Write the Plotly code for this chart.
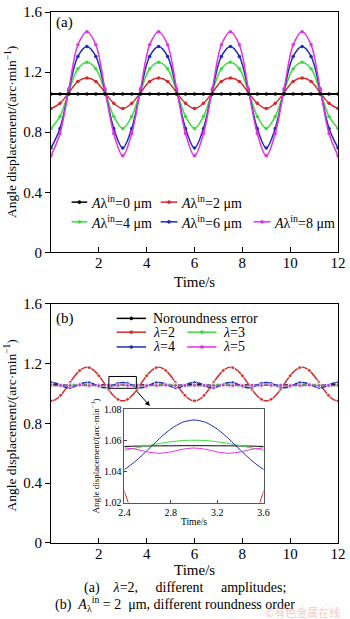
import plotly.graph_objects as go

# ---------------- data: panel (a) ----------------
t_a = [0, 0.375, 0.75, 1.125, 1.5, 1.875, 2.25, 2.625, 3.0, 3.375, 3.75, 4.125, 4.5, 4.875, 5.25, 5.625,
       6.0, 6.375, 6.75, 7.125, 7.5, 7.875, 8.25, 8.625, 9.0, 9.375, 9.75, 10.125, 10.5, 10.875, 11.25, 11.625, 12.0]
a_0um = [1.055, 1.055, 1.055, 1.055, 1.055, 1.055, 1.055, 1.055,
         1.055, 1.055, 1.055, 1.055, 1.055, 1.055, 1.055, 1.055,
         1.055, 1.055, 1.055, 1.055, 1.055, 1.055, 1.055, 1.055,
         1.055, 1.055, 1.055, 1.055, 1.055, 1.055, 1.055, 1.055, 1.055]
a_2um = [0.957, 0.992, 1.064, 1.138, 1.160, 1.138, 1.064, 0.992,
         0.957, 0.992, 1.064, 1.138, 1.160, 1.138, 1.064, 0.992,
         0.957, 0.992, 1.064, 1.138, 1.160, 1.138, 1.064, 0.992,
         0.957, 0.992, 1.064, 1.138, 1.160, 1.138, 1.064, 0.992, 0.957]
a_4um = [0.825, 0.905, 1.073, 1.222, 1.266, 1.222, 1.073, 0.905,
         0.825, 0.905, 1.073, 1.222, 1.266, 1.222, 1.073, 0.905,
         0.825, 0.905, 1.073, 1.222, 1.266, 1.222, 1.073, 0.905,
         0.825, 0.905, 1.073, 1.222, 1.266, 1.222, 1.073, 0.905, 0.825]
a_6um = [0.695, 0.825, 1.082, 1.304, 1.370, 1.304, 1.082, 0.825,
         0.695, 0.825, 1.082, 1.304, 1.370, 1.304, 1.082, 0.825,
         0.695, 0.825, 1.082, 1.304, 1.370, 1.304, 1.082, 0.825,
         0.695, 0.825, 1.082, 1.304, 1.370, 1.304, 1.082, 0.825, 0.695]
a_8um = [0.643, 0.791, 1.090, 1.382, 1.469, 1.382, 1.090, 0.791,
         0.643, 0.791, 1.090, 1.382, 1.469, 1.382, 1.090, 0.791,
         0.643, 0.791, 1.090, 1.382, 1.469, 1.382, 1.090, 0.791,
         0.643, 0.791, 1.090, 1.382, 1.469, 1.382, 1.090, 0.791, 0.643]
names_a = ["<i>A</i>λ<sup>in</sup>=0 μm", "<i>A</i>λ<sup>in</sup>=2 μm", "<i>A</i>λ<sup>in</sup>=4 μm",
           "<i>A</i>λ<sup>in</sup>=6 μm", "<i>A</i>λ<sup>in</sup>=8 μm"]

# ---------------- data: panel (b) ----------------
t_b = [0.0, 0.1, 0.2, 0.3, 0.4, 0.5, 0.6, 0.7, 0.8, 0.9, 1.0, 1.1, 1.2, 1.3, 1.4, 1.5, 1.6, 1.7, 1.8, 1.9,
       2.0, 2.1, 2.2, 2.3, 2.4, 2.5, 2.6, 2.7, 2.8, 2.9, 3.0, 3.1, 3.2, 3.3, 3.4, 3.5, 3.6, 3.7, 3.8, 3.9,
       4.0, 4.1, 4.2, 4.3, 4.4, 4.5, 4.6, 4.7, 4.8, 4.9, 5.0, 5.1, 5.2, 5.3, 5.4, 5.5, 5.6, 5.7, 5.8, 5.9,
       6.0, 6.1, 6.2, 6.3, 6.4, 6.5, 6.6, 6.7, 6.8, 6.9, 7.0, 7.1, 7.2, 7.3, 7.4, 7.5, 7.6, 7.7, 7.8, 7.9,
       8.0, 8.1, 8.2, 8.3, 8.4, 8.5, 8.6, 8.7, 8.8, 8.9, 9.0, 9.1, 9.2, 9.3, 9.4, 9.5, 9.6, 9.7, 9.8, 9.9,
       10.0, 10.1, 10.2, 10.3, 10.4, 10.5, 10.6, 10.7, 10.8, 10.9, 11.0, 11.1, 11.2, 11.3, 11.4, 11.5,
       11.6, 11.7, 11.8, 11.9, 12.0]
b_nor = [1.0565, 1.0565, 1.0564, 1.0564, 1.0563, 1.0562, 1.0560, 1.0559, 1.0557, 1.0556,
         1.0555, 1.0553, 1.0552, 1.0552, 1.0551, 1.0551, 1.0551, 1.0552, 1.0552, 1.0553,
         1.0555, 1.0556, 1.0557, 1.0559, 1.0560, 1.0562, 1.0563, 1.0564, 1.0564, 1.0565,
         1.0565, 1.0565, 1.0564, 1.0564, 1.0563, 1.0562, 1.0560, 1.0559, 1.0557, 1.0556,
         1.0555, 1.0553, 1.0552, 1.0552, 1.0551, 1.0551, 1.0551, 1.0552, 1.0552, 1.0553,
         1.0555, 1.0556, 1.0557, 1.0559, 1.0560, 1.0562, 1.0563, 1.0564, 1.0564, 1.0565,
         1.0565, 1.0565, 1.0564, 1.0564, 1.0563, 1.0562, 1.0560, 1.0559, 1.0557, 1.0556,
         1.0555, 1.0553, 1.0552, 1.0552, 1.0551, 1.0551, 1.0551, 1.0552, 1.0552, 1.0553,
         1.0555, 1.0556, 1.0557, 1.0559, 1.0560, 1.0562, 1.0563, 1.0564, 1.0564, 1.0565,
         1.0565, 1.0565, 1.0564, 1.0564, 1.0563, 1.0562, 1.0560, 1.0559, 1.0557, 1.0556,
         1.0555, 1.0553, 1.0552, 1.0552, 1.0551, 1.0551, 1.0551, 1.0552, 1.0552, 1.0553,
         1.0555, 1.0556, 1.0557, 1.0559, 1.0560, 1.0562, 1.0563, 1.0564, 1.0564, 1.0565,
         1.0565]
b_l2 = [0.950, 0.952, 0.960, 0.971, 0.987, 1.006, 1.027, 1.050, 1.074, 1.097,
        1.118, 1.137, 1.153, 1.164, 1.172, 1.174, 1.172, 1.164, 1.153, 1.137,
        1.118, 1.097, 1.074, 1.050, 1.027, 1.006, 0.987, 0.971, 0.960, 0.952,
        0.950, 0.952, 0.960, 0.971, 0.987, 1.006, 1.027, 1.050, 1.074, 1.097,
        1.118, 1.137, 1.153, 1.164, 1.172, 1.174, 1.172, 1.164, 1.153, 1.137,
        1.118, 1.097, 1.074, 1.050, 1.027, 1.006, 0.987, 0.971, 0.960, 0.952,
        0.950, 0.952, 0.960, 0.971, 0.987, 1.006, 1.027, 1.050, 1.074, 1.097,
        1.118, 1.137, 1.153, 1.164, 1.172, 1.174, 1.172, 1.164, 1.153, 1.137,
        1.118, 1.097, 1.074, 1.050, 1.027, 1.006, 0.987, 0.971, 0.960, 0.952,
        0.950, 0.952, 0.960, 0.971, 0.987, 1.006, 1.027, 1.050, 1.074, 1.097,
        1.118, 1.137, 1.153, 1.164, 1.172, 1.174, 1.172, 1.164, 1.153, 1.137,
        1.118, 1.097, 1.074, 1.050, 1.027, 1.006, 0.987, 0.971, 0.960, 0.952,
        0.950]
b_l3 = [1.0500, 1.0502, 1.0510, 1.0521, 1.0535, 1.0550, 1.0565, 1.0579, 1.0590, 1.0598,
        1.0600, 1.0598, 1.0590, 1.0579, 1.0565, 1.0550, 1.0535, 1.0521, 1.0510, 1.0502,
        1.0500, 1.0502, 1.0510, 1.0521, 1.0535, 1.0550, 1.0565, 1.0579, 1.0590, 1.0598,
        1.0600, 1.0598, 1.0590, 1.0579, 1.0565, 1.0550, 1.0535, 1.0521, 1.0510, 1.0502,
        1.0500, 1.0502, 1.0510, 1.0521, 1.0535, 1.0550, 1.0565, 1.0579, 1.0590, 1.0598,
        1.0600, 1.0598, 1.0590, 1.0579, 1.0565, 1.0550, 1.0535, 1.0521, 1.0510, 1.0502,
        1.0500, 1.0502, 1.0510, 1.0521, 1.0535, 1.0550, 1.0565, 1.0579, 1.0590, 1.0598,
        1.0600, 1.0598, 1.0590, 1.0579, 1.0565, 1.0550, 1.0535, 1.0521, 1.0510, 1.0502,
        1.0500, 1.0502, 1.0510, 1.0521, 1.0535, 1.0550, 1.0565, 1.0579, 1.0590, 1.0598,
        1.0600, 1.0598, 1.0590, 1.0579, 1.0565, 1.0550, 1.0535, 1.0521, 1.0510, 1.0502,
        1.0500, 1.0502, 1.0510, 1.0521, 1.0535, 1.0550, 1.0565, 1.0579, 1.0590, 1.0598,
        1.0600, 1.0598, 1.0590, 1.0579, 1.0565, 1.0550, 1.0535, 1.0521, 1.0510, 1.0502,
        1.0500]
b_l4 = [1.0730, 1.0715, 1.0672, 1.0609, 1.0537, 1.0468, 1.0413, 1.0384, 1.0384, 1.0413, 1.0468, 1.0537, 1.0609, 1.0672, 1.0715,
        1.0730, 1.0715, 1.0672, 1.0609, 1.0537, 1.0468, 1.0413, 1.0384, 1.0384, 1.0413, 1.0468, 1.0537, 1.0609, 1.0672, 1.0715,
        1.0730, 1.0715, 1.0672, 1.0609, 1.0537, 1.0468, 1.0413, 1.0384, 1.0384, 1.0413, 1.0468, 1.0537, 1.0609, 1.0672, 1.0715,
        1.0730, 1.0715, 1.0672, 1.0609, 1.0537, 1.0468, 1.0413, 1.0384, 1.0384, 1.0413, 1.0468, 1.0537, 1.0609, 1.0672, 1.0715,
        1.0730, 1.0715, 1.0672, 1.0609, 1.0537, 1.0468, 1.0413, 1.0384, 1.0384, 1.0413, 1.0468, 1.0537, 1.0609, 1.0672, 1.0715,
        1.0730, 1.0715, 1.0672, 1.0609, 1.0537, 1.0468, 1.0413, 1.0384, 1.0384, 1.0413, 1.0468, 1.0537, 1.0609, 1.0672, 1.0715,
        1.0730, 1.0715, 1.0672, 1.0609, 1.0537, 1.0468, 1.0413, 1.0384, 1.0384, 1.0413, 1.0468, 1.0537, 1.0609, 1.0672, 1.0715,
        1.0730, 1.0715, 1.0672, 1.0609, 1.0537, 1.0468, 1.0413, 1.0384, 1.0384, 1.0413, 1.0468, 1.0537, 1.0609, 1.0672, 1.0715,
        1.0730]
b_l5 = [1.0550, 1.0542, 1.0525, 1.0516, 1.0525, 1.0542, 1.0550, 1.0542, 1.0525, 1.0516, 1.0525, 1.0542,
        1.0550, 1.0542, 1.0525, 1.0516, 1.0525, 1.0542, 1.0550, 1.0542, 1.0525, 1.0516, 1.0525, 1.0542,
        1.0550, 1.0542, 1.0525, 1.0516, 1.0525, 1.0542, 1.0550, 1.0542, 1.0525, 1.0516, 1.0525, 1.0542,
        1.0550, 1.0542, 1.0525, 1.0516, 1.0525, 1.0542, 1.0550, 1.0542, 1.0525, 1.0516, 1.0525, 1.0542,
        1.0550, 1.0542, 1.0525, 1.0516, 1.0525, 1.0542, 1.0550, 1.0542, 1.0525, 1.0516, 1.0525, 1.0542,
        1.0550, 1.0542, 1.0525, 1.0516, 1.0525, 1.0542, 1.0550, 1.0542, 1.0525, 1.0516, 1.0525, 1.0542,
        1.0550, 1.0542, 1.0525, 1.0516, 1.0525, 1.0542, 1.0550, 1.0542, 1.0525, 1.0516, 1.0525, 1.0542,
        1.0550, 1.0542, 1.0525, 1.0516, 1.0525, 1.0542, 1.0550, 1.0542, 1.0525, 1.0516, 1.0525, 1.0542,
        1.0550, 1.0542, 1.0525, 1.0516, 1.0525, 1.0542, 1.0550, 1.0542, 1.0525, 1.0516, 1.0525, 1.0542,
        1.0550, 1.0542, 1.0525, 1.0516, 1.0525, 1.0542, 1.0550, 1.0542, 1.0525, 1.0516, 1.0525, 1.0542,
        1.0550]
names_b = ["Noroundness error", "<i>λ</i>=2", "<i>λ</i>=3", "<i>λ</i>=4", "<i>λ</i>=5"]

x_ticks = [2, 4, 6, 8, 10, 12]
y_ticks = [0, 0.4, 0.8, 1.2, 1.6]
inset_x_ticks = [2.4, 2.8, 3.2, 3.6]
inset_y_ticks = [1.02, 1.04, 1.06, 1.08]

# ---------------- style ----------------
colors = ["#000000", "#d42b2b", "#3fd83f", "#1f2db0", "#e033e0"]
FONT = "Liberation Serif"
W, H = 350, 619
ML, MR, MT, MB = 51, 6, 4, 76
PW, PH = W - ML - MR, H - MT - MB


def px(x):
    return (x - ML) / PW


def py(y):
    return (H - MB - y) / PH


fig = go.Figure()

# panel (a): coloured curves first, black reference line on top
series_a = [a_0um, a_2um, a_4um, a_6um, a_8um]
for i in [1, 2, 3, 4, 0]:
    fig.add_trace(go.Scatter(
        x=t_a, y=series_a[i], mode="lines+markers", name=names_a[i],
        line=dict(color=colors[i], width=2 if i == 0 else 1.5, shape="spline", smoothing=1),
        marker=dict(color=colors[i], size=3.5, symbol="circle"),
        xaxis="x", yaxis="y", showlegend=False))

# panel (b)
series_b = [b_nor, b_l2, b_l3, b_l4, b_l5]
msize = [4 if i % 4 == 0 else 0 for i in range(len(t_b))]
for i in [0, 1, 2, 3, 4]:
    fig.add_trace(go.Scatter(
        x=t_b, y=series_b[i], mode="lines+markers", name=names_b[i],
        line=dict(color=colors[i], width=1.8 if i == 0 else 1.5, shape="spline", smoothing=0.6),
        marker=dict(color=colors[i], size=msize, symbol="circle"),
        xaxis="x2", yaxis="y2", showlegend=False))

# inset (zoom on 2.4–3.6 s)
sl = slice(22, 39)
for i in [0, 1, 2, 3, 4]:
    fig.add_trace(go.Scatter(
        x=t_b[sl], y=series_b[i][sl], mode="lines",
        line=dict(color=colors[i], width=1, shape="spline", smoothing=0.6),
        xaxis="x3", yaxis="y3", showlegend=False))

axis_common = dict(showline=True, linecolor="black", linewidth=1, mirror=True,
                   showgrid=False, zeroline=False,
                   tickfont=dict(family=FONT, size=15, color="black"))

layout = dict(
    width=W, height=H,
    margin=dict(l=ML, r=MR, t=MT, b=MB),
    paper_bgcolor="white", plot_bgcolor="white",
    font=dict(family=FONT, color="black"),
    xaxis=dict(domain=[0, 1], anchor="y", range=[0, 12], tickvals=x_ticks, ticklabelstandoff=-3,
               ticks="inside", ticklen=5, tickcolor="black", **axis_common),
    yaxis=dict(domain=[py(248), py(4)], anchor="x", range=[0, 1.6], tickvals=y_ticks,
               ticks="outside", ticklen=5, tickcolor="black", **axis_common),
    xaxis2=dict(domain=[0, 1], anchor="y2", range=[0, 12], tickvals=x_ticks, ticklabelstandoff=-3,
                ticks="inside", ticklen=5, tickcolor="black", **axis_common),
    yaxis2=dict(domain=[py(543), py(300)], anchor="x2", range=[0, 1.6], tickvals=y_ticks,
                ticks="outside", ticklen=5, tickcolor="black", **axis_common),
    xaxis3=dict(domain=[px(126), px(268)], anchor="y3", range=[2.4, 3.6], tickvals=inset_x_ticks,
                ticks="inside", ticklen=3, tickcolor="#444", showline=True, linecolor="#555",
                linewidth=1, mirror=True, showgrid=False, zeroline=False,
                tickfont=dict(family=FONT, size=10, color="black")),
    yaxis3=dict(domain=[py(502), py(407)], anchor="x3", range=[1.02, 1.08], tickvals=inset_y_ticks,
                ticks="inside", ticklen=3, tickcolor="#444", showline=True, linecolor="#555",
                linewidth=1, mirror=True, showgrid=False, zeroline=False,
                tickfont=dict(family=FONT, size=10, color="black")),
)
fig.update_layout(**layout)

shapes = []
annotations = []

shapes.append(dict(type="rect", xref="paper", yref="paper", x0=px(126), x1=px(268), y0=py(502), y1=py(407),
                   fillcolor="white", line=dict(width=0), layer="below"))

# zoom rectangle + arrow in panel (b)
shapes.append(dict(type="rect", xref="x2", yref="y2", x0=2.42, x1=3.57, y0=1.034, y1=1.113,
                   line=dict(color="black", width=1)))
annotations.append(dict(xref="paper", yref="paper", x=px(152), y=py(404), ax=-15, ay=-17,
                        showarrow=True, arrowhead=2, arrowsize=1, arrowwidth=1, arrowcolor="black", text=""))

# custom legends
leg_a_pos = [(72, 88, 197), (163, 180, 197), (72, 88, 217), (163, 180, 217), (258, 275, 217)]
leg_b_pos = [(118, 148, 315), (118, 148, 329), (190, 220, 329), (118, 148, 344), (190, 220, 344)]


def legend_item(x0, x1, y, color, label, gap):
    shapes.append(dict(type="line", xref="paper", yref="paper", x0=px(x0), x1=px(x1), y0=py(y), y1=py(y),
                       line=dict(color=color, width=1.5)))
    xm = (x0 + x1) / 2
    shapes.append(dict(type="circle", xref="paper", yref="paper", x0=px(xm - 1.6), x1=px(xm + 1.6),
                       y0=py(y + 1.6), y1=py(y - 1.6), fillcolor=color, line=dict(color=color, width=0.5)))
    annotations.append(dict(xref="paper", yref="paper", x=px(x1 + gap), y=py(y), xanchor="left",
                            yanchor="middle", text=label, showarrow=False,
                            font=dict(family=FONT, size=14, color="black")))


for i, (x0, x1, y) in enumerate(leg_a_pos):
    legend_item(x0, x1, y, colors[i], names_a[i], 2)
for i, (x0, x1, y) in enumerate(leg_b_pos):
    legend_item(x0, x1, y, colors[i], names_b[i], 5)

# panel labels
annotations.append(dict(xref="paper", yref="paper", x=px(54), y=py(15), xanchor="left", yanchor="middle",
                        text="(a)", showarrow=False, font=dict(family=FONT, size=15)))
annotations.append(dict(xref="paper", yref="paper", x=px(54), y=py(315), xanchor="left", yanchor="middle",
                        text="(b)", showarrow=False, font=dict(family=FONT, size=15)))

# axis titles
ytitle = "Angle displacement/(arc·min<sup>−1</sup>)"
for yc in (126, 424):
    annotations.append(dict(xref="paper", yref="paper", x=px(10), y=py(yc), textangle=-90,
                            xanchor="center", yanchor="middle", text=ytitle, showarrow=False,
                            font=dict(family=FONT, size=13.5)))
for yc in (278, 570):
    annotations.append(dict(xref="paper", yref="paper", x=px(198), y=py(yc), xanchor="center",
                            yanchor="middle", text="Time/s", showarrow=False, font=dict(family=FONT, size=15)))
# inset titles
annotations.append(dict(xref="paper", yref="paper", x=px(96), y=py(455), textangle=-90, xanchor="center",
                        yanchor="middle", text=ytitle, showarrow=False, font=dict(family=FONT, size=9)))
annotations.append(dict(xref="paper", yref="paper", x=px(197), y=py(522), xanchor="center", yanchor="middle",
                        text="Time/s", showarrow=False, font=dict(family=FONT, size=9.5)))

# caption
nb = "\u00a0"
annotations.append(dict(xref="paper", yref="paper", x=px(188), y=py(589), xanchor="center", yanchor="middle",
                        text="(a)" + nb * 4 + "<i>λ</i>=2," + nb * 5 + "different" + nb * 5 + "amplitudes;",
                        showarrow=False, font=dict(family=FONT, size=14)))
annotations.append(dict(xref="paper", yref="paper", x=px(178), y=py(605), xanchor="center", yanchor="middle",
                        text="(b)" + nb * 2 + "<i>A</i><sub>λ</sub><sup>in</sup>" + nb + "=" + nb + "2" + nb * 2
                             + "μm, different roundness order",
                        showarrow=False, font=dict(family=FONT, size=14)))
# watermark
annotations.append(dict(xref="paper", yref="paper", x=px(348), y=py(613), xanchor="right", yanchor="middle",
                        text="©有色金属在线", showarrow=False,
                        font=dict(family="Noto Sans CJK SC", size=11, color="rgba(235,150,150,0.55)")))

fig.update_layout(shapes=shapes, annotations=annotations)
fig.write_html("out.html")
